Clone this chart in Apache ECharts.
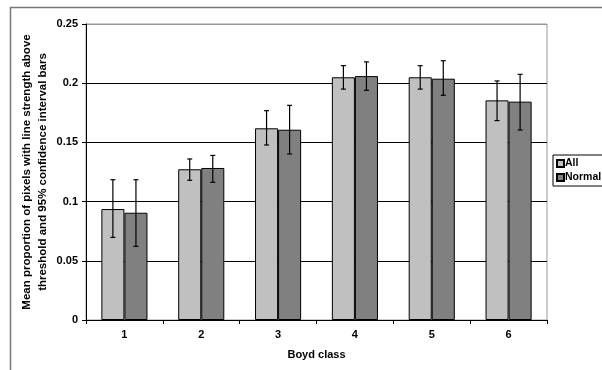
<!DOCTYPE html>
<html>
<head>
<meta charset="utf-8">
<script src="https://cdn.jsdelivr.net/npm/echarts@6/dist/echarts.min.js"></script>
<style>html,body{margin:0;padding:0;background:#fff;}#c{width:602px;height:370px;}</style>
</head>
<body>
<div id="c"></div>
<script>
const categories = ['1', '2', '3', '4', '5', '6'];
const allMean = [0.0937, 0.1273, 0.1619, 0.2050, 0.2050, 0.1855];
const allLow = [0.0698, 0.1180, 0.1478, 0.1950, 0.1950, 0.1684];
const allHigh = [0.1185, 0.1360, 0.1768, 0.2148, 0.2148, 0.2019];
const normalMean = [0.0906, 0.1284, 0.1607, 0.2060, 0.2038, 0.1844];
const normalLow = [0.0622, 0.1163, 0.1402, 0.1940, 0.1898, 0.1605];
const normalHigh = [0.1185, 0.1390, 0.1813, 0.2180, 0.2190, 0.2075];
const yTicks = [0, 0.05, 0.1, 0.15, 0.2, 0.25];

const chart = echarts.init(document.getElementById('c'));
const CAT_GAP = 0.4;
function errSeries(name, low, high, idx) {
  return {
    type: 'custom',
    name: name + ' err',
    z: 5,
    silent: true,
    data: categories.map((c, i) => [i, low[i], high[i]]),
    renderItem: function (params, api) {
      const i = api.value(0);
      const pLow = api.coord([i, api.value(1)]);
      const pHigh = api.coord([i, api.value(2)]);
      const catW = api.size([1, 0])[0];
      const bw = catW * (1 - CAT_GAP) / 2;
      const x = pLow[0] + (idx === 0 ? -bw / 2 : bw / 2);
      const cap = 2.5;
      const st = { stroke: '#000', lineWidth: 1.2 };
      return {
        type: 'group',
        children: [
          { type: 'line', shape: { x1: x, y1: pLow[1], x2: x, y2: pHigh[1] }, style: st },
          { type: 'line', shape: { x1: x - cap, y1: pHigh[1], x2: x + cap, y2: pHigh[1] }, style: st },
          { type: 'line', shape: { x1: x - cap, y1: pLow[1], x2: x + cap, y2: pLow[1] }, style: st }
        ]
      };
    }
  };
}
const font = 'Liberation Sans, Arial, sans-serif';
chart.setOption({
  animation: false,
  backgroundColor: '#fff',
  textStyle: { fontFamily: font },
  graphic: [
    { type: 'line', shape: { x1: 10, y1: 7.5, x2: 602, y2: 7.5 }, style: { stroke: '#777', lineWidth: 1.5 } },
    { type: 'line', shape: { x1: 10.5, y1: 7, x2: 10.5, y2: 370 }, style: { stroke: '#777', lineWidth: 1.5 } }
  ],
  grid: { left: 86, right: 55, top: 24, bottom: 50, show: true, borderColor: '#999', borderWidth: 1, backgroundColor: '#fff' },
  legend: {
    left: 553, top: 155,
    orient: 'vertical',
    itemWidth: 7, itemHeight: 7, itemGap: 3,
    icon: 'rect',
    padding: [3, 3, 3, 3],
    borderColor: '#000', borderWidth: 1,
    backgroundColor: '#fff',
    data: ['All', 'Normal'],
    textStyle: { fontFamily: font, fontSize: 10.5, fontWeight: 'bold', color: '#000', padding: [0, 0, 0, -4] }
  },
  xAxis: {
    type: 'category',
    data: categories,
    name: 'Boyd class',
    nameLocation: 'middle',
    nameGap: 29,
    nameMoveOverlap: false,
    nameTextStyle: { fontFamily: font, fontSize: 11, fontWeight: 'bold', color: '#000' },
    axisLine: { lineStyle: { color: '#000', width: 1 } },
    axisTick: { show: true, length: 4, lineStyle: { color: '#000' } },
    axisLabel: { fontFamily: font, fontSize: 11, fontWeight: 'bold', color: '#000', margin: 9 }
  },
  yAxis: {
    type: 'value',
    min: 0, max: 0.25, interval: 0.05,
    name: 'Mean proportion of pixels with line strength above\nthreshold and 95% confidence interval bars',
    nameLocation: 'middle',
    nameGap: 35,
    nameMoveOverlap: false,
    nameTextStyle: { fontFamily: font, fontSize: 11.5, fontWeight: 'bold', color: '#000', lineHeight: 16 },
    axisLine: { show: true, lineStyle: { color: '#000', width: 1 } },
    axisTick: { show: true, length: 4, lineStyle: { color: '#000' } },
    axisLabel: {
      fontFamily: font, fontSize: 11, fontWeight: 'bold', color: '#000', margin: 8,
      formatter: v => { const t = yTicks.find(x => Math.abs(x - v) < 1e-9); return t === undefined ? '' : String(+t.toFixed(2)); }
    },
    splitLine: { show: true, lineStyle: { color: ['#000', '#000', '#000', '#000', '#000', '#999'], width: 1 } }
  },
  series: [
    {
      name: 'All', type: 'bar', data: allMean, barGap: '0%', barCategoryGap: '40%',
      itemStyle: { color: '#c0c0c0', borderColor: '#000', borderWidth: 1 }
    },
    {
      name: 'Normal', type: 'bar', data: normalMean, barGap: '0%', barCategoryGap: '40%',
      itemStyle: { color: '#808080', borderColor: '#000', borderWidth: 1 }
    },
    errSeries('All', allLow, allHigh, 0),
    errSeries('Normal', normalLow, normalHigh, 1)
  ]
});
</script>
</body>
</html>
